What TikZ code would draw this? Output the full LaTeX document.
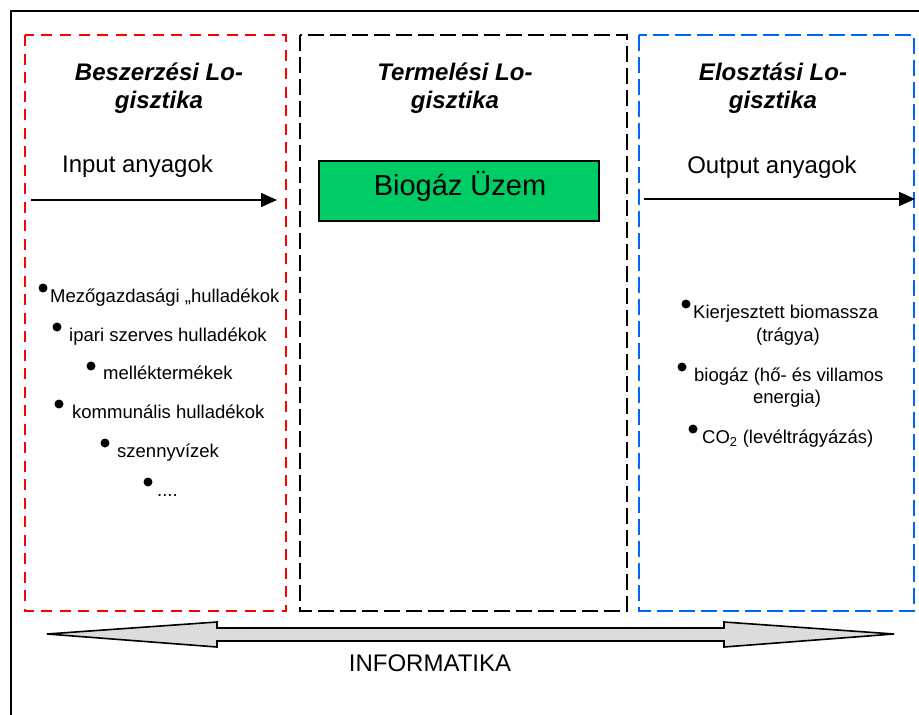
\documentclass[tikz,border=0pt]{standalone}
\usepackage{fontspec}
\setmainfont{Liberation Sans}
\usetikzlibrary{arrows.meta}
\definecolor{procred}{RGB}{255,0,0}
\definecolor{distblue}{RGB}{0,102,255}
\definecolor{plantgreen}{RGB}{0,204,102}
\definecolor{infogray}{RGB}{220,220,220}
\tikzset{
  frameline/.style={line width=2pt},
  zonebox/.style={line width=2pt, dash pattern=on 16pt off 6pt},
  headtext/.style={font=\fontsize{24}{28}\selectfont\bfseries\itshape, align=center, inner sep=0pt, anchor=base},
  flowtext/.style={font=\fontsize{24}{28}\selectfont, inner sep=0pt, anchor=base},
  itemtext/.style={font=\fontsize{18.5}{22}\selectfont, inner sep=0pt, anchor=base west},
  flow/.style={line width=1.6pt, -{Triangle[length=16pt,width=14pt]}},
  plant/.style={draw, line width=2pt, fill=plantgreen, minimum width=280pt, minimum height=60pt, inner sep=0pt},
  infoarrow/.style={draw, line width=1.6pt, fill=infogray, line join=miter},
  dot/.style={fill=black}
}
\begin{document}
\begin{tikzpicture}[x=1pt,y=-1pt]
\useasboundingbox (0,0) rectangle (919,715);
\clip (0,0) rectangle (919,715);

% outer frame (runs off the page on the right and bottom)
\draw[frameline] (11,740) -- (11,11) -- (940,11);

% the three logistics zones
\draw[zonebox, procred, line width=2.6pt, dash pattern=on 11pt off 7.5pt] (25,35) rectangle (286,611);
\draw[zonebox, black] (300,35) rectangle (627,611);
\draw[zonebox, distblue] (639,35) rectangle (914,611);

% zone headings (anchored at the baseline of the second line)
\node[headtext] (hBesz) at (159,108) {Beszerzési Lo-\\gisztika};
\node[headtext] (hTerm) at (455,108) {Termelési Lo-\\gisztika};
\node[headtext] (hElo) at (773,108) {Elosztási Lo-\\gisztika};

% input side
\node[flowtext] (inTxt) at (137.5,172) {Input anyagok};
\coordinate (inA) at (31,200);
\coordinate (inB) at (277,200);
\draw[flow] (inA) -- (inB);

% plant
\node[plant] (plant) at (459,191) {};
\node[font=\fontsize{29}{34}\selectfont, inner sep=0pt, anchor=base] (plantTxt) at (460,195) {Biogáz Üzem};

% output side
\node[flowtext] (outTxt) at (772,173) {Output anyagok};
\coordinate (outA) at (644,199);
\coordinate (outB) at (915,199);
\draw[flow] (outA) -- (outB);

% input materials
\node[itemtext] (m1) at (50,302) {Mezőgazdasági „hulladékok};
\node[itemtext] (m2) at (69,341) {ipari szerves hulladékok};
\node[itemtext] (m3) at (103,379) {melléktermékek};
\node[itemtext] (m4) at (72,418) {kommunális hulladékok};
\node[itemtext] (m5) at (117,457) {szennyvízek};
\node[itemtext] (m6) at (157,496) {....};
\fill[dot] (43,288) circle (4.5);
\fill[dot] (57,327) circle (4.5);
\fill[dot] (91,366) circle (4.5);
\fill[dot] (59,404) circle (4.5);
\fill[dot] (105,443) circle (4.5);
\fill[dot] (148,482) circle (4.5);

% output products
\node[itemtext] (o1) at (693,318) {Kierjesztett biomassza};
\node[itemtext, anchor=base] (o1b) at (788,341) {(trágya)};
\node[itemtext] (o2) at (694,381) {biogáz (hő- és villamos};
\node[itemtext, anchor=base] (o2b) at (787,403) {energia)};
\node[itemtext] (o3) at (702,443) {CO\textsubscript{2} (levéltrágyázás)};
\fill[dot] (686,304) circle (4.5);
\fill[dot] (682,367) circle (4.5);
\fill[dot] (693,429) circle (4.5);

% information flow across all zones
\coordinate (iL) at (47,634);
\coordinate (iR) at (894,634);
\path[infoarrow] (iL) -- (217,622) -- (217,628) -- (724,628) -- (724,622) -- (iR)
  -- (724,647) -- (724,641) -- (217,641) -- (217,647) -- cycle;
\node[flowtext] (info) at (430,671) {INFORMATIKA};
\end{tikzpicture}
\end{document}
